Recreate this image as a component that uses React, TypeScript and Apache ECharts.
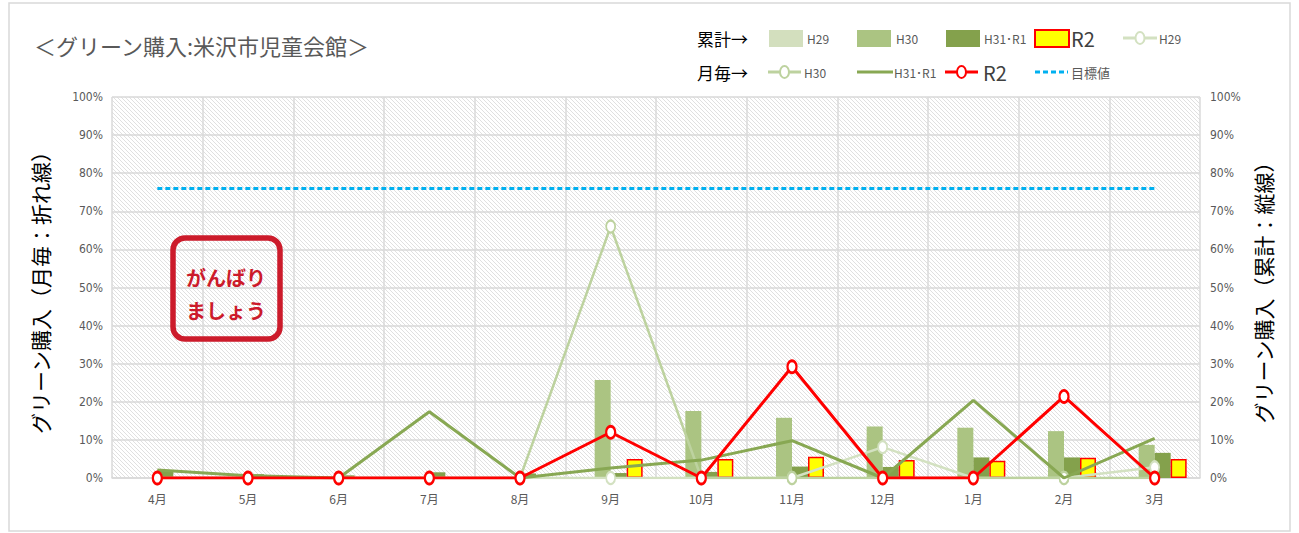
import React, { useEffect, useRef } from 'react';
import * as echarts from 'echarts';

const months = ['4月', '5月', '6月', '7月', '8月', '9月', '10月', '11月', '12月', '1月', '2月', '3月'];

// cumulative (bars, right axis), percent
const cumH29 = [0, 0, 0, 0, 0, 0, 0, 0, 0, 0, 0, 0];
const cumH30 = [0, 0, 0, 0, 0, 25.7, 17.6, 15.8, 13.5, 13.2, 12.3, 8.7];
const cumH31R1 = [2.0, 1.0, 0.7, 1.5, 1.2, 1.3, 1.6, 3.0, 2.9, 5.4, 5.4, 6.6];
const cumR2 = [0, 0, 0, 0, 0, 5.0, 5.0, 5.6, 4.7, 4.5, 5.3, 5.0];

// monthly (lines, left axis), percent
const monH29 = [0, 0, 0, 0, 0, 0, 0, 0, 8.1, 0, 0, 2.8];
const monH30 = [0, 0, 0, 0, 0, 66, 0, 0, 0, 0, 0, 0];
const monH31R1 = [2.1, 0.6, 0, 17.4, 0, 2.6, 4.7, 9.8, 0, 20.4, 0, 10.4];
const monR2 = [0, 0, 0, 0, 0, 12, 0, 29.2, 0, 0, 21.4, 0];
const target = [76, 76, 76, 76, 76, 76, 76, 76, 76, 76, 76, 76];

const C_H29_BAR = '#d3dfbe';
const C_H30_BAR = '#abc482';
const C_H31_BAR = '#84a14c';
const C_H29_LINE = '#d3e1c1';
const C_H30_LINE = '#bdd29f';
const C_H31_LINE = '#88a853';
const C_RED = '#ff0000';
const C_TARGET = '#00b0f0';

function makeHatch() {
  const c = document.createElement('canvas');
  c.width = 4;
  c.height = 4;
  const ctx = c.getContext('2d')!;
  ctx.fillStyle = '#ffffff';
  ctx.fillRect(0, 0, 4, 4);
  ctx.strokeStyle = '#e0e0e0';
  ctx.lineWidth = 1;
  ctx.beginPath();
  ctx.moveTo(-1, -1);
  ctx.lineTo(5, 5);
  ctx.moveTo(-1, 3);
  ctx.lineTo(1, 5);
  ctx.moveTo(3, -1);
  ctx.lineTo(5, 1);
  ctx.stroke();
  return c;
}

const smallLbl = (x: number, y: number, text: string, size = 12, color = '#595959') => ({
  type: 'text',
  x,
  y,
  style: { text, fill: color, fontSize: size, fontFamily: 'Noto Sans CJK JP', verticalAlign: 'middle' },
});

const lineIcon = (x: number, y: number, w: number, color: string, marker: boolean, width = 3, dash?: number[]) => {
  const els: any[] = [
    {
      type: 'line',
      shape: { x1: x, y1: y, x2: x + w, y2: y },
      style: { stroke: color, lineWidth: width, lineDash: dash },
    },
  ];
  if (marker) {
    els.push({
      type: 'ellipse',
      shape: { cx: x + w / 2, cy: y, rx: 4.5, ry: 6 },
      style: { fill: '#fff', stroke: color, lineWidth: 2 },
    });
  }
  return els;
};

const rectIcon = (x: number, y: number, fill: string, stroke?: string) => ({
  type: 'rect',
  shape: { x, y: y - 8, width: 34, height: 17 },
  style: { fill, stroke: stroke || null, lineWidth: stroke ? 2 : 0 },
});

export default function App() {
  const ref = useRef<HTMLDivElement>(null);

  useEffect(() => {
    if (!ref.current) return;
    const chart = echarts.init(ref.current, null, { renderer: 'svg' });
    const hatch = makeHatch();
    const r1 = 38;
    const r2 = 72;

    const graphics: any[] = [
      {
        type: 'rect',
        shape: { x: 9, y: 3, width: 1281, height: 528 },
        style: { fill: 'none', stroke: '#d9d9d9', lineWidth: 1.5 },
        z: -20,
      },
      {
        type: 'text',
        x: 34,
        y: 45,
        style: {
          text: '＜グリーン購入:米沢市児童会館＞',
          fill: '#595959',
          fontSize: 22,
          fontFamily: 'Noto Sans CJK JP',
          verticalAlign: 'middle',
        },
      },
      smallLbl(697, r1, '累計→', 17, '#000'),
      smallLbl(697, r2, '月毎→', 17, '#000'),
      rectIcon(769, r1, C_H29_BAR),
      smallLbl(807, r1, 'H29'),
      rectIcon(857, r1, C_H30_BAR),
      smallLbl(896, r1, 'H30'),
      rectIcon(946, r1, C_H31_BAR),
      smallLbl(984, r1, 'H31･R1'),
      rectIcon(1035, r1, '#ffff00', C_RED),
      smallLbl(1071, r1, 'R2', 20, '#404040'),
      ...lineIcon(1123, r1, 34, C_H29_LINE, true, 3),
      smallLbl(1159, r1, 'H29'),
      ...lineIcon(768, r2, 33, C_H30_LINE, true, 3),
      smallLbl(804, r2, 'H30'),
      ...lineIcon(857, r2, 36, C_H31_LINE, false, 3),
      smallLbl(894, r2, 'H31･R1'),
      ...lineIcon(945, r2, 33, C_RED, true, 3),
      smallLbl(983, r2, 'R2', 20, '#404040'),
      ...lineIcon(1035, r2, 33, C_TARGET, false, 3, [5, 3]),
      smallLbl(1071, r2, '目標値', 13),
      {
        type: 'rect',
        shape: { x: 173, y: 238, width: 107, height: 101, r: 12 },
        style: { fill: 'none', stroke: '#cc1b2b', lineWidth: 5.5 },
        z: 50,
      },
      {
        type: 'text',
        x: 226,
        y: 277,
        style: {
          text: 'がんばり',
          fill: '#cc1b2b',
          fontSize: 20,
          fontWeight: 'bold',
          fontFamily: 'Noto Sans CJK JP',
          align: 'center',
          verticalAlign: 'middle',
        },
        z: 51,
      },
      {
        type: 'text',
        x: 226,
        y: 310,
        style: {
          text: 'ましょう',
          fill: '#cc1b2b',
          fontSize: 20,
          fontWeight: 'bold',
          fontFamily: 'Noto Sans CJK JP',
          align: 'center',
          verticalAlign: 'middle',
        },
        z: 51,
      },
    ];

    const axisLabel = {
      color: '#595959',
      fontSize: 12,
      fontFamily: 'DejaVu Sans Condensed',
      formatter: (v: number) => `${v}%`,
    };

    const barBase = { type: 'bar', yAxisIndex: 1, barWidth: 16, barGap: '0%', z: 2 };
    const lineBase = { type: 'line', yAxisIndex: 0, showAllSymbol: true, symbol: 'circle', symbolSize: [9, 12] };

    chart.setOption({
      animation: false,
      graphic: graphics,
      grid: {
        left: 112,
        right: 99,
        top: 97,
        bottom: 55,
        show: true,
        borderWidth: 0,
        backgroundColor: { image: hatch, repeat: 'repeat', imageWidth: 4, imageHeight: 4 } as any,
      },
      xAxis: {
        type: 'category',
        data: months,
        boundaryGap: true,
        axisLine: { lineStyle: { color: '#d9d9d9', width: 1.5 } },
        axisTick: { show: false },
        axisLabel: { color: '#595959', fontSize: 12, fontFamily: 'Noto Sans CJK JP', margin: 14 },
        splitLine: { show: true, lineStyle: { color: '#dadada', width: 1.5 } },
      },
      yAxis: [
        {
          type: 'value',
          min: 0,
          max: 100,
          interval: 10,
          position: 'left',
          name: 'グリーン購入（月毎：折れ線）',
          nameLocation: 'middle',
          nameRotate: 90,
          nameGap: 62,
          nameTextStyle: { color: '#000', fontSize: 21, fontFamily: 'Noto Sans CJK JP' },
          axisLabel: { ...axisLabel, margin: 9 },
          axisLine: { show: false },
          axisTick: { show: false },
          splitLine: { show: true, lineStyle: { color: '#d9d9d9', width: 1.5 } },
        },
        {
          type: 'value',
          min: 0,
          max: 100,
          interval: 10,
          position: 'right',
          name: 'グリーン購入（累計：縦線）',
          nameLocation: 'middle',
          nameRotate: 90,
          nameGap: 52,
          nameTextStyle: { color: '#000', fontSize: 21, fontFamily: 'Noto Sans CJK JP' },
          axisLabel: { ...axisLabel, margin: 10 },
          axisLine: { show: false },
          axisTick: { show: false },
          splitLine: { show: false },
        },
      ],
      series: [
        { ...barBase, name: '累計H29', data: cumH29, itemStyle: { color: C_H29_BAR } },
        { ...barBase, name: '累計H30', data: cumH30, itemStyle: { color: C_H30_BAR } },
        { ...barBase, name: '累計H31・R1', data: cumH31R1, itemStyle: { color: C_H31_BAR } },
        {
          ...barBase,
          name: '累計R2',
          data: cumR2,
          itemStyle: { color: '#ffff00', borderColor: C_RED, borderWidth: 1.5 },
        },
        {
          ...lineBase,
          name: '月毎H29',
          data: monH29,
          z: 3,
          lineStyle: { color: C_H29_LINE, width: 2.5 },
          itemStyle: { color: '#fff', borderColor: C_H29_LINE, borderWidth: 2 },
        },
        {
          ...lineBase,
          name: '月毎H30',
          data: monH30,
          z: 4,
          lineStyle: { color: C_H30_LINE, width: 2.5 },
          itemStyle: { color: '#fff', borderColor: C_H30_LINE, borderWidth: 2 },
        },
        {
          type: 'line',
          name: '月毎H31・R1',
          data: monH31R1,
          z: 5,
          symbol: 'none',
          lineStyle: { color: C_H31_LINE, width: 3 },
          itemStyle: { color: C_H31_LINE },
        },
        {
          type: 'line',
          name: '目標値',
          data: target,
          z: 6,
          symbol: 'none',
          lineStyle: { color: C_TARGET, width: 3, type: [5, 3] },
          itemStyle: { color: C_TARGET },
        },
        {
          ...lineBase,
          name: '月毎R2',
          data: monR2,
          z: 7,
          lineStyle: { color: C_RED, width: 3 },
          itemStyle: { color: '#fff', borderColor: C_RED, borderWidth: 2.5 },
        },
      ],
    } as any);

    return () => chart.dispose();
  }, []);

  return (
    <div
      ref={ref}
      style={{ position: 'absolute', left: 0, top: 0, width: 1299, height: 533, background: '#fff' }}
    />
  );
}
